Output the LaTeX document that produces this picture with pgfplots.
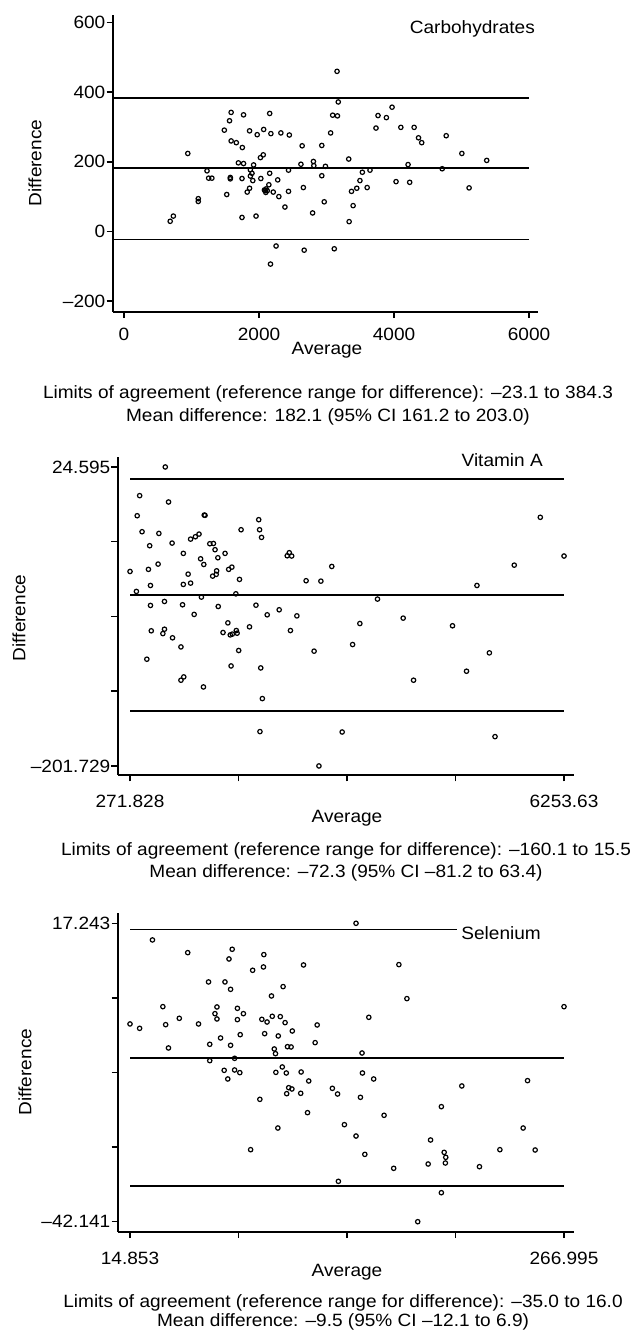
\documentclass[border=0pt]{standalone}
\usepackage{fontspec}
\setmainfont{Liberation Sans}[FakeStretch=1.07]
\usepackage{pgfplots}
\pgfplotsset{compat=1.18}
\newcommand\fs{\fontsize{17.8bp}{20bp}\selectfont}

\pgfplotsset{
  ba/.style={
    scale only axis, anchor=south west,
    axis x line=bottom, axis y line=left,
    axis line style={-, line width=1.7bp},
    tick align=outside, major tick length=6.5bp,
    every tick/.style={black, line width=1.5bp},
    tick label style={font=\fs},
    yticklabel style={inner xsep=1bp},
    xticklabel style={anchor=center},
    clip=false,
  },
  lim/.style={black, line width=1.7bp, no marks},
  pts/.style={black, only marks, mark=o, mark size=2.2bp, line width=1.2bp},
}

\begin{document}
\begin{tikzpicture}
\useasboundingbox (0,0) rectangle (632bp,1336bp);

% Carbohydrates
\begin{axis}[ba, at={(113bp,1024.3bp)}, width=425bp, height=296.7bp,
  xmin=-163, xmax=6133, ymin=-230.8, ymax=622,
  xtick={0,2000,4000,6000}, xticklabels={0,2000,4000,6000},
  ytick={-200,0,200,400,600}, yticklabels={–200,0,200,400,600},
  xticklabel style={yshift=-15.8bp}]
\addplot[lim] coordinates {(-163,384.3) (6000,384.3)};
\addplot[lim] coordinates {(-163,182.1) (6000,182.1)};
\addplot[lim] coordinates {(-163,-23.1) (6000,-23.1)};
\addplot[pts] coordinates {
(684,29)(731,44)(945,224)(1100,94)(1100,86)(1230,174)(1254,153)(1302,153)
(1486,291)(1522,106)(1563,318)(1587,342)(1575,155)(1575,151)(1587,260)(1664,255)
(1694,197)(1748,152)(1748,40)(1753,241)(1771,335)(1771,195)(1825,113)(1860,124)
(1860,289)(1872,177)(1872,159)(1896,167)(1908,146)(1920,191)(1956,44)(1973,278)
(2021,212)(2027,152)(2063,220)(2069,293)(2092,117)(2080,119)(2100,112)(2104,122)
(2122,117)(2146,134)(2158,167)(2158,339)(2170,-94)(2176,281)(2211,113)(2253,-42)
(2277,148)(2294,100)(2324,283)(2384,70)(2437,176)(2437,115)(2449,277)(2621,193)
(2639,246)(2657,126)(2669,-54)(2794,53)(2806,201)(2812,189)(2930,247)(2930,160)
(2966,85)(2984,187)(3061,283)(3091,334)(3115,-50)(3162,332)(3156,460)(3174,372)
(3329,208)(3335,28)(3370,115)(3394,74)(3448,124)(3495,146)(3531,170)(3602,126)
(3644,176)(3733,297)(3763,333)(3887,327)(3971,357)(4030,143)(4101,299)(4208,192)
(4232,141)(4298,299)(4363,269)(4410,255)(4714,180)(4773,275)(5005,224)(5112,125)
(5373,204)};
\end{axis}

% Vitamin A
\begin{axis}[ba, at={(118bp,561bp)}, width=456bp, height=318.3bp,
  xmin=106.4, xmax=6391.5, ymin=-208.54, ymax=32.39,
  xtick={271.828,1767.2785,3262.729,4758.1795,6253.63},
  xticklabels={271.828,,,,6253.63},
  ytick={-201.729,-145.148,-88.567,-31.986,24.595},
  yticklabels={–201.729,,,,24.595},
  xticklabel style={yshift=-20bp}]
\addplot[lim] coordinates {(271.828,15.5) (6253.63,15.5)};
\addplot[lim] coordinates {(271.828,-72.3) (6253.63,-72.3)};
\addplot[lim] coordinates {(271.828,-160.1) (6253.63,-160.1)};
\addplot[pts] coordinates {
(272,-54.5)(360,-69.6)(371,-12.3)(405,2.9)(438,-24.4)(504,-120.9)(526,-52.9)(543,-35.0)
(554,-65.1)(554,-80.2)(565,-99.4)(659,-48.9)(670,-25.7)(725,-101.5)(747,-77.2)(747,-98.2)
(758,24.6)(803,-1.9)(852,-33.0)(858,-104.7)(974,-111.6)(974,-136.8)(996,-79.7)(1007,-64.3)
(1007,-40.8)(1013,-134.3)(1073,-56.5)(1107,-63.3)(1107,-30.0)(1156,-87.0)(1173,-28.2)(1223,-26.2)
(1245,-44.9)(1256,-73.9)(1284,-141.9)(1289,-49.2)(1295,-11.8)(1306,-12.0)(1372,-33.5)(1411,-58.0)
(1422,-33.3)(1444,-38.0)(1460,-56.7)(1466,-54.0)(1483,-44.1)(1488,-81.0)(1554,-100.7)(1582,-40.8)
(1621,-93.4)(1632,-52.9)(1665,-126.0)(1654,-102.5)(1676,-51.2)(1682,-101.9)(1731,-71.4)(1737,-99.2)
(1748,-101.2)(1770,-114.3)(1781,-60.5)(1803,-22.9)(1919,-96.4)(2008,-80.0)(2046,-15.3)(2058,-22.9)
(2063,-175.7)(2074,-127.5)(2085,-28.7)(2096,-150.7)(2163,-87.3)(2328,-83.5)(2439,-42.6)(2467,-40.3)
(2483,-99.2)(2500,-42.8)(2572,-88.1)(2699,-61.5)(2809,-114.8)(2876,-201.7)(2903,-61.8)(3053,-50.7)
(3196,-176.0)(3340,-109.8)(3440,-93.9)(3683,-75.4)(4037,-89.8)(4180,-136.8)(4717,-95.6)(4910,-130.0)
(5054,-65.1)(5225,-116.1)(5303,-179.5)(5568,-49.7)(5927,-13.5)(6254,-42.8)};
\end{axis}

% Selenium
\begin{axis}[ba, at={(118bp,104.3bp)}, width=456bp, height=318.4bp,
  xmin=7.88, xmax=272.8, ymin=-44.13, ymax=19.23,
  xtick={14.853,77.8885,140.924,203.9595,266.995},
  xticklabels={14.853,,,,266.995},
  ytick={-42.141,-27.295,-12.449,2.397,17.243},
  yticklabels={–42.141,,,,17.243},
  xticklabel style={yshift=-20bp}]
\addplot[lim] coordinates {(14.853,16.0) (204.8,16.0)};
\addplot[lim] coordinates {(14.853,-9.5) (266.995,-9.5)};
\addplot[lim] coordinates {(14.853,-35.0) (266.995,-35.0)};
\addplot[pts] coordinates {
(14.85,-2.79)(20.44,-3.66)(27.89,13.93)(33.94,0.65)(35.57,-2.93)(37.20,-7.57)(43.49,-1.67)(48.38,11.40)
(54.66,-2.79)(60.48,5.57)(61.18,-6.84)(61.18,-10.09)(64.21,-0.74)(65.37,0.59)(65.37,-1.80)(67.47,-5.58)
(69.56,-12.02)(70.03,5.57)(71.66,-13.74)(72.36,10.14)(73.29,4.10)(73.29,-7.04)(74.22,12.07)(75.62,-9.63)
(75.62,-11.95)(77.25,0.32)(77.25,-1.93)(78.65,-12.48)(78.88,-4.92)(80.74,-0.74)(84.93,-27.81)(86.10,7.89)
(90.29,-17.79)(91.45,-1.87)(92.38,8.55)(92.61,11.01)(93.08,-4.72)(94.48,-2.40)(97.04,2.78)(97.50,-1.27)
(98.67,-7.77)(99.37,-8.70)(99.60,-12.42)(100.99,-5.18)(100.76,-23.50)(102.16,-1.33)(103.32,-11.35)(103.79,4.64)
(104.95,-2.53)(105.65,-12.55)(105.88,-16.66)(106.35,-7.31)(107.05,-15.47)(108.45,-7.37)(108.91,-15.73)(109.14,-4.19)
(114.03,-16.59)(114.27,-12.35)(115.66,8.95)(117.99,-20.44)(118.69,-14.14)(122.41,-6.51)(123.58,-2.99)(132.42,-15.60)
(135.45,-16.73)(135.92,-34.11)(139.41,-22.83)(146.16,-25.09)(146.16,17.243)(148.72,-17.39)(149.65,-8.57)(149.88,-12.55)
(151.28,-28.74)(153.60,-1.47)(156.41,-13.74)(162.46,-20.97)(168.04,-31.52)(171.07,9.02)(175.73,2.25)(182.01,-42.141)
(188.07,-30.66)(189.47,-25.88)(195.74,-19.25)(195.74,-36.37)(197.37,-28.34)(198.30,-29.33)(198.07,-30.46)(207.63,-15.13)
(217.87,-31.19)(229.74,-27.81)(243.25,-23.50)(245.81,-14.07)(250.23,-27.87)(266.995,0.65)};
\end{axis}

\begin{scope}[every node/.style={font=\fs, inner sep=0pt}]
% panel 1 texts
\node[anchor=east] at (535bp,1307.5bp) {Carbohydrates};
\node[rotate=90] at (35bp,1173bp) {Difference};
\node at (327bp,986bp) {Average};
\node at (328bp,942bp) {Limits of agreement (reference range for difference): –23.1 to 384.3};
\node at (328bp,919bp) {Mean difference: 182.1 (95\% CI 161.2 to 203.0)};
% panel 2 texts
\node[anchor=east] at (543bp,876bp) {Vitamin A};
\node[rotate=90] at (19bp,718bp) {Difference};
\node at (347bp,518bp) {Average};
\node at (346bp,485bp) {Limits of agreement (reference range for difference): –160.1 to 15.5};
\node at (346bp,463bp) {Mean difference: –72.3 (95\% CI –81.2 to 63.4)};
% panel 3 texts
\node[anchor=east] at (541bp,403bp) {Selenium};
\node[rotate=90] at (25bp,264bp) {Difference};
\node at (347bp,64bp) {Average};
\node at (343bp,33bp) {Limits of agreement (reference range for difference): –35.0 to 16.0};
\node at (343bp,14bp) {Mean difference: –9.5 (95\% CI –12.1 to 6.9)};
\end{scope}
\end{tikzpicture}
\end{document}
